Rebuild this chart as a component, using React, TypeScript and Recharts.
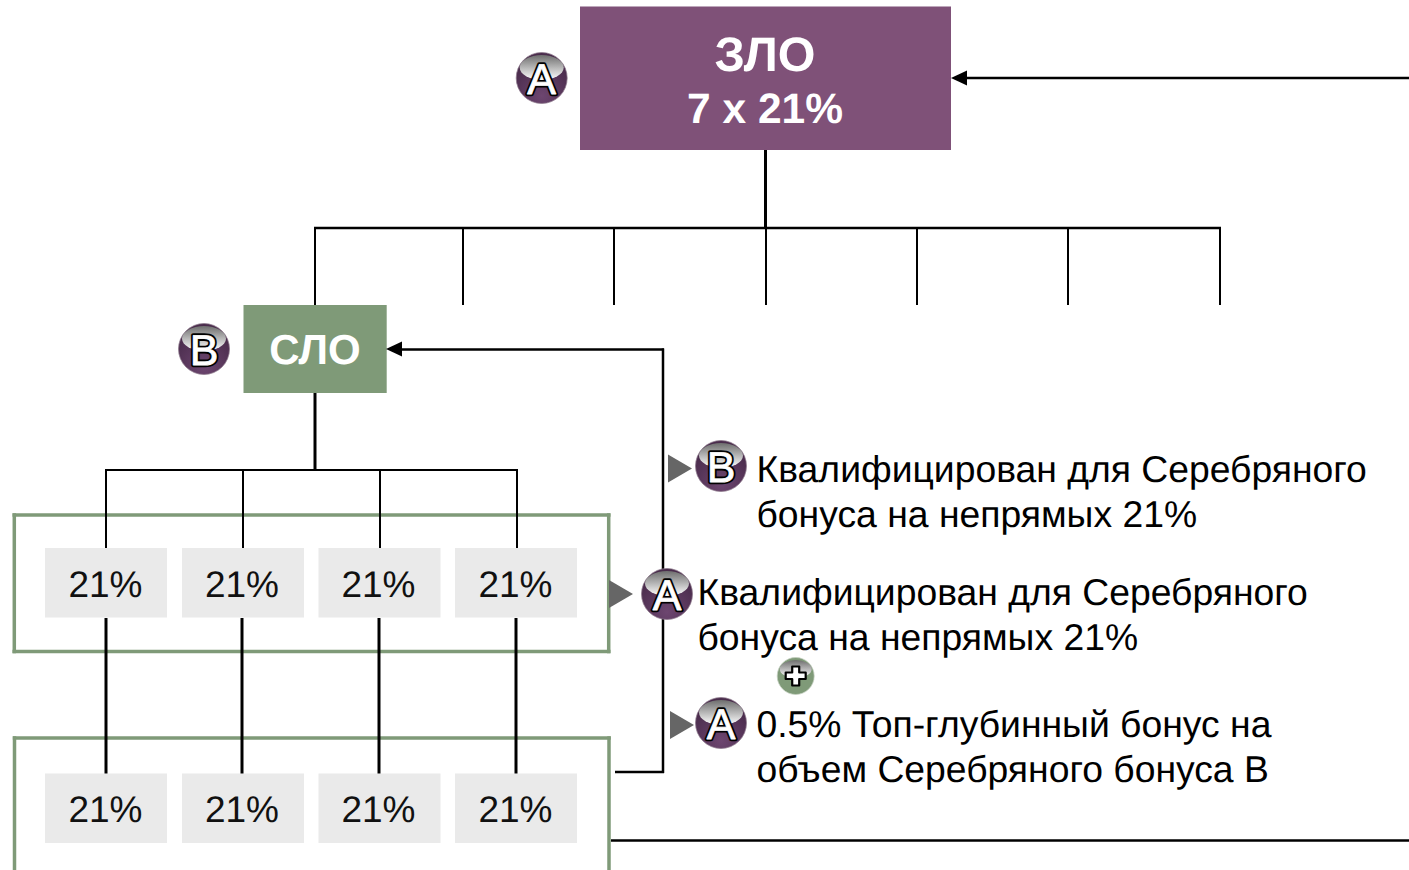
import { ScatterChart, Scatter, XAxis, YAxis, ReferenceArea, ReferenceLine } from "recharts"

const WIDTH = 1409
const HEIGHT = 870

const LINE = "#000000"
const PURPLE = "#7F5178"
const GREEN = "#7F9A78"

const topDrops = [315, 463, 614, 766, 917, 1068, 1220]
const midDrops = [106, 243, 380, 517]
const lowDrops = [106, 242, 379, 516]
const cellsX = [45, 182, 318.5, 455]
const cellsY = [548, 773.5]

const percentLabels = [
  { x: 105.5, y: 597, text: "21%" },
  { x: 242, y: 597, text: "21%" },
  { x: 378.5, y: 597, text: "21%" },
  { x: 515.5, y: 597, text: "21%" },
  { x: 105.5, y: 822, text: "21%" },
  { x: 242, y: 822, text: "21%" },
  { x: 378.5, y: 822, text: "21%" },
  { x: 515.5, y: 822, text: "21%" },
]

const noteLines = [
  { x: 756.5, y: 482, text: "Квалифицирован для Серебряного" },
  { x: 756.5, y: 527, text: "бонуса на непрямых 21%" },
  { x: 697.5, y: 605, text: "Квалифицирован для Серебряного" },
  { x: 697.5, y: 650, text: "бонуса на непрямых 21%" },
  { x: 756.5, y: 737, text: "0.5% Топ-глубинный бонус на" },
  { x: 756.5, y: 782, text: "объем Серебряного бонуса В" },
]

const boxTitles = [
  { x: 765, y: 71, text: "ЗЛО", size: 48.5 },
  { x: 765, y: 123, text: "7 x 21%", size: 42.5 },
  { x: 315, y: 364, text: "СЛО", size: 42 },
]

const badges = [
  { x: 541.7, y: 78, text: "A" },
  { x: 204, y: 349, text: "B" },
  { x: 721, y: 466, text: "B" },
  { x: 667, y: 594, text: "A" },
  { x: 721, y: 723, text: "A" },
]
const plusBadges = [{ x: 795.7, y: 676 }]
const pointers = [
  { x: 680, y: 468.5 },
  { x: 621, y: 594 },
  { x: 682, y: 725 },
]
const arrowHeads = [
  { x: 951, y: 78 },
  { x: 386, y: 349 },
]

function seg(x1: number, y1: number, x2: number, y2: number, width = 2.5, color = LINE) {
  return (
    <ReferenceLine
      key={`${x1}-${y1}-${x2}-${y2}`}
      segment={[{ x: x1, y: y1 }, { x: x2, y: y2 }]}
      stroke={color}
      strokeWidth={width}
      ifOverflow="visible"
    />
  )
}

function PercentShape({ cx, cy, payload }: any) {
  return (
    <text x={cx} y={cy} textAnchor="middle" fontFamily="Liberation Sans" fontSize={37} fill="#111111" textRendering="geometricPrecision">
      {payload.text}
    </text>
  )
}

function NoteShape({ cx, cy, payload }: any) {
  return (
    <text x={cx} y={cy} fontFamily="Liberation Sans" fontSize={37.3} fill="#000000" textRendering="geometricPrecision">
      {payload.text}
    </text>
  )
}

function TitleShape({ cx, cy, payload }: any) {
  return (
    <text x={cx} y={cy} textAnchor="middle" fontFamily="Liberation Sans" fontWeight="bold" fontSize={payload.size} fill="#ffffff" textRendering="geometricPrecision">
      {payload.text}
    </text>
  )
}

function BadgeShape({ cx, cy, payload }: any) {
  const letter = { y: 16, textAnchor: "middle", fontFamily: "Liberation Sans", fontSize: 43, strokeLinejoin: "round", textRendering: "geometricPrecision" } as const
  return (
    <g transform={`translate(${cx},${cy})`}>
      <circle r={25.5} fill="url(#badgeBody)" stroke="#8d7a8c" strokeWidth={0.75} />
      <ellipse cy={-10.5} rx={22} ry={12.5} fill="url(#badgeGloss)" />
      <text {...letter} fill="#000000" stroke="#000000" strokeWidth={4.5}>
        {payload.text}
      </text>
      <text {...letter} fill="#ffffff" stroke="#ffffff" strokeWidth={0.8}>
        {payload.text}
      </text>
    </g>
  )
}

function PlusShape({ cx, cy }: any) {
  const cross = "M-3.5 -9.5H3.5V-3.5H10V3H3.5V9.5H-3.5V3H-10V-3.5H-3.5Z"
  return (
    <g transform={`translate(${cx},${cy})`}>
      <circle r={18.5} fill={GREEN} stroke="#c3cfbf" strokeWidth={0.75} />
      <ellipse cy={-7} rx={16} ry={9} fill="url(#badgeGloss)" />
      <path d={cross} fill="#ffffff" stroke="#000000" strokeWidth={2.2} strokeLinejoin="round" />
    </g>
  )
}

function PointerShape({ cx, cy }: any) {
  return <path d={`M${cx - 12} ${cy - 14}L${cx + 12} ${cy}L${cx - 12} ${cy + 14}Z`} fill="#666666" />
}

function ArrowShape({ cx, cy }: any) {
  return <path d={`M${cx} ${cy}L${cx + 16} ${cy - 7.5}L${cx + 16} ${cy + 7.5}Z`} fill={LINE} />
}

export default function App() {
  return (
    <div style={{ position: "absolute", left: 0, top: 0, width: WIDTH, height: HEIGHT, overflow: "hidden", background: "#ffffff" }}>
      <ScatterChart width={WIDTH} height={HEIGHT} margin={{ top: 0, right: 0, bottom: 0, left: 0 }}>
        <defs>
          <radialGradient id="badgeBody" cx="50%" cy="85%" r="70%">
            <stop offset="0%" stopColor="#6d4670" />
            <stop offset="100%" stopColor="#4a2c4c" />
          </radialGradient>
          <linearGradient id="badgeGloss" x1="0" y1="0" x2="0" y2="1">
            <stop offset="0%" stopColor="#6e6e6e" />
            <stop offset="100%" stopColor="#ffffff" />
          </linearGradient>
        </defs>
        <XAxis type="number" dataKey="x" domain={[0, WIDTH]} hide />
        <YAxis type="number" dataKey="y" domain={[0, HEIGHT]} reversed hide />

        {/* boxes */}
        <ReferenceArea x1={580} x2={951} y1={6.5} y2={150} fill={PURPLE} fillOpacity={1} stroke="none" />
        <ReferenceArea x1={243.5} x2={386.7} y1={305} y2={393} fill={GREEN} fillOpacity={1} stroke="none" />
        {cellsY.map((y) =>
          cellsX.map((x) => (
            <ReferenceArea key={`${x}-${y}`} x1={x} x2={x + 122} y1={y} y2={y + 69.5} fill="#EAEAEA" fillOpacity={1} stroke="none" />
          ))
        )}

        {/* green frames */}
        {seg(12.5, 515, 610.5, 515, 3.5, GREEN)}
        {seg(12.5, 651.5, 610.5, 651.5, 3.5, GREEN)}
        {seg(14.3, 513.3, 14.3, 653.2, 3.5, GREEN)}
        {seg(608.7, 513.3, 608.7, 653.2, 3.5, GREEN)}
        {seg(12.8, 738, 610.8, 738, 3.5, GREEN)}
        {seg(14.5, 736.3, 14.5, 870, 3.5, GREEN)}
        {seg(609, 736.3, 609, 870, 3.5, GREEN)}

        {/* connectors */}
        {seg(765.5, 150, 765.5, 228, 3)}
        {seg(314, 228, 1221, 228, 2.5)}
        {topDrops.map((x) => seg(x, 228, x, 305, 2))}
        {seg(315, 393, 315, 470, 3)}
        {seg(105, 470, 518, 470, 2)}
        {midDrops.map((x) => seg(x, 470, x, 548, 2))}
        {lowDrops.map((x) => seg(x, 618, x, 773.5, 3))}
        {seg(965, 78, 1409, 78, 2.5)}
        {seg(400, 349.5, 664, 349.5, 2.5)}
        {seg(663, 348.5, 663, 773, 2.5)}
        {seg(615, 772, 664, 772, 2.5)}
        {seg(611, 840.5, 1409, 840.5, 2.5)}

        <Scatter data={arrowHeads} shape={<ArrowShape />} isAnimationActive={false} />
        <Scatter data={pointers} shape={<PointerShape />} isAnimationActive={false} />
        <Scatter data={boxTitles} shape={<TitleShape />} isAnimationActive={false} />
        <Scatter data={percentLabels} shape={<PercentShape />} isAnimationActive={false} />
        <Scatter data={noteLines} shape={<NoteShape />} isAnimationActive={false} />
        <Scatter data={badges} shape={<BadgeShape />} isAnimationActive={false} />
        <Scatter data={plusBadges} shape={<PlusShape />} isAnimationActive={false} />
      </ScatterChart>
    </div>
  )
}
